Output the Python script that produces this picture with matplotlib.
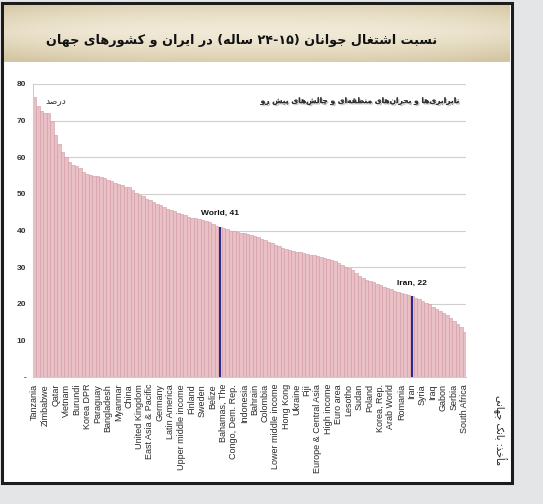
import re
import numpy as np
import matplotlib.pyplot as plt
from matplotlib.patches import Rectangle
import matplotlib.patheffects as pe

# youth employment ratio (%), sorted, one bar per country/region
values = [76.5, 74.0, 72.5, 72.2, 72.0, 70.0, 66.0, 63.5, 61.5, 60.0,
          58.8, 58.0, 57.5, 57.0, 56.0, 55.5, 55.2, 55.0, 54.8, 54.5,
          54.2, 53.8, 53.4, 53.0, 52.8, 52.3, 52.0, 51.8, 51.0, 50.2,
          49.8, 49.3, 48.7, 48.2, 47.8, 47.3, 46.9, 46.4, 46.0, 45.6,
          45.2, 44.8, 44.4, 44.1, 43.8, 43.5, 43.3, 43.1, 42.9, 42.6,
          42.2, 41.8, 41.3, 41.0, 40.6, 40.3, 40.0, 39.8, 39.6, 39.4,
          39.2, 39.0, 38.7, 38.4, 38.1, 37.7, 37.3, 36.9, 36.5, 36.1,
          35.7, 35.3, 35.0, 34.7, 34.5, 34.2, 34.0, 33.8, 33.6, 33.4,
          33.2, 33.0, 32.8, 32.6, 32.3, 32.0, 31.6, 31.1, 30.6, 30.1,
          29.7, 29.2, 28.4, 27.6, 27.0, 26.6, 26.2, 25.9, 25.5, 25.1,
          24.7, 24.3, 23.9, 23.5, 23.2, 22.9, 22.6, 22.3, 22.0, 21.6,
          21.2, 20.8, 20.3, 19.8, 19.2, 18.6, 18.0, 17.4, 16.8, 16.1,
          15.4, 14.6, 13.6, 12.3]

# only every third bar carries a label on the x axis
tick_names = ['Tanzania', 'Zimbabwe', 'Qatar', 'Vietnam', 'Burundi', 'Korea DPR',
              'Paraguay', 'Bangladesh', 'Myanmar', 'China', 'United Kingdom',
              'East Asia & Pacific', 'Germany', 'Latin America', 'Upper middle income',
              'Finland', 'Sweden', 'Belize', 'Bahamas, The', 'Congo, Dem. Rep.',
              'Indonesia', 'Bahrain', 'Colombia', 'Lower middle income', 'Hong Kong',
              'Ukraine', 'Fiji', 'Europe & Central Asia', 'High income', 'Euro area',
              'Lesotho', 'Sudan', 'Poland', 'Korea, Rep.', 'Arab World', 'Romania',
              'Iran', 'Syria', 'Iraq', 'Gabon', 'Serbia', 'South Africa']
label_step = 3

highlights = {'World': 53, 'Iran': 108}

title_fa = 'نسبت اشتغال جوانان (۱۵-۲۴ ساله) در ایران و کشورهای جهان'
unit_fa = 'درصد'
banner_fa = 'نابرابری‌ها و بحران‌های منطقه‌ای و چالش‌های پیش رو'
source_fa = 'مأخذ: بانک جهانی'

# --- minimal arabic/persian shaping (matplotlib has no complex text layout) ---
FORMS = {  # isolated, final, initial, medial
    'ا': (0xFE8D, 0xFE8E, None, None), 'آ': (0xFE81, 0xFE82, None, None),
    'أ': (0xFE83, 0xFE84, None, None), 'ب': (0xFE8F, 0xFE90, 0xFE91, 0xFE92),
    'پ': (0xFB56, 0xFB57, 0xFB58, 0xFB59), 'ت': (0xFE95, 0xFE96, 0xFE97, 0xFE98),
    'ث': (0xFE99, 0xFE9A, 0xFE9B, 0xFE9C), 'ج': (0xFE9D, 0xFE9E, 0xFE9F, 0xFEA0),
    'چ': (0xFB7A, 0xFB7B, 0xFB7C, 0xFB7D), 'ح': (0xFEA1, 0xFEA2, 0xFEA3, 0xFEA4),
    'خ': (0xFEA5, 0xFEA6, 0xFEA7, 0xFEA8), 'د': (0xFEA9, 0xFEAA, None, None),
    'ذ': (0xFEAB, 0xFEAC, None, None), 'ر': (0xFEAD, 0xFEAE, None, None),
    'ز': (0xFEAF, 0xFEB0, None, None), 'ژ': (0xFB8A, 0xFB8B, None, None),
    'س': (0xFEB1, 0xFEB2, 0xFEB3, 0xFEB4), 'ش': (0xFEB5, 0xFEB6, 0xFEB7, 0xFEB8),
    'ص': (0xFEB9, 0xFEBA, 0xFEBB, 0xFEBC), 'ض': (0xFEBD, 0xFEBE, 0xFEBF, 0xFEC0),
    'ط': (0xFEC1, 0xFEC2, 0xFEC3, 0xFEC4), 'ظ': (0xFEC5, 0xFEC6, 0xFEC7, 0xFEC8),
    'ع': (0xFEC9, 0xFECA, 0xFECB, 0xFECC), 'غ': (0xFECD, 0xFECE, 0xFECF, 0xFED0),
    'ف': (0xFED1, 0xFED2, 0xFED3, 0xFED4), 'ق': (0xFED5, 0xFED6, 0xFED7, 0xFED8),
    'ک': (0xFB8E, 0xFB8F, 0xFB90, 0xFB91), 'گ': (0xFB92, 0xFB93, 0xFB94, 0xFB95),
    'ل': (0xFEDD, 0xFEDE, 0xFEDF, 0xFEE0), 'م': (0xFEE1, 0xFEE2, 0xFEE3, 0xFEE4),
    'ن': (0xFEE5, 0xFEE6, 0xFEE7, 0xFEE8), 'و': (0xFEED, 0xFEEE, None, None),
    'ه': (0xFEE9, 0xFEEA, 0xFEEB, 0xFEEC), 'ی': (0xFBFC, 0xFBFD, 0xFBFE, 0xFBFF),
}


def shape(text):
    out = []
    for i, c in enumerate(text):
        if c not in FORMS:
            out.append(c)
            continue
        prev = text[i - 1] if i > 0 else ''
        nxt = text[i + 1] if i + 1 < len(text) else ''
        f = FORMS[c]
        jp = prev in FORMS and FORMS[prev][2] is not None
        jn = nxt in FORMS and f[2] is not None
        if jp and jn:
            g = f[3]
        elif jp:
            g = f[1]
        elif jn:
            g = f[2]
        else:
            g = f[0]
        out.append(chr(g))
    return ''.join(out)


def fa(text):
    s = shape(text).replace('\u200c', '')[::-1]
    s = s.translate(str.maketrans('()', ')('))
    return re.sub(r'[0-9\u06F0-\u06F9]+', lambda m: m.group(0)[::-1], s)


N = len(values)
pink = '#e8c0c5'
navy = '#2a2a8e'

fig = plt.figure(figsize=(5.43, 5.04), dpi=100, facecolor='#e4e5e7')

# white card with dark frame
fig.patches.append(Rectangle((2 / 543, 21 / 504), 510 / 543, 480 / 504,
                             transform=fig.transFigure, facecolor='white',
                             edgecolor='#1c1c1c', lw=2.2, zorder=-5))

# beige header band
hax = fig.add_axes([4 / 543, 442 / 504, 506 / 543, 57 / 504])
yy = np.linspace(0, 1, 60)[:, None]
xx = np.linspace(-1, 1, 300)[None, :]
light = np.array([246, 240, 224]) / 255
dark = np.array([212, 198, 163]) / 255
w = np.clip(0.15 + 0.8 * np.abs(yy - 0.45) ** 1.5 * 2 + 0.3 * np.abs(xx) ** 3, 0, 1)
img = light[None, None, :] * (1 - w[..., None]) + dark[None, None, :] * w[..., None]
hax.imshow(img, aspect='auto', extent=[0, 1, 0, 1])
hax.set_xlim(0, 1)
hax.set_ylim(0, 1)
hax.axis('off')
hax.text(0.47, 0.38, fa(title_fa), ha='center', va='center', fontsize=9.2,
         fontweight='bold', family='DejaVu Sans', color='#111111')

# main chart
ax = fig.add_axes([33 / 543, 127 / 504, 433 / 543, 293 / 504])
x = np.arange(N)
ax.bar(x, values, width=1.0, color=pink, edgecolor='#d49ea7', linewidth=0.45, zorder=2)
for idx in highlights.values():
    ax.bar(idx, values[idx], width=0.75, color=navy, linewidth=0, zorder=3)

ax.set_xlim(-0.5, N - 0.5)
ax.set_ylim(0, 80)
ax.set_yticks(range(0, 81, 10))
ax.set_yticklabels(['-'] + [str(v) for v in range(10, 81, 10)],
                   fontsize=6, fontweight='bold', family='Liberation Sans', color='#333333')
ax.set_xticks(x[::label_step])
ax.set_xticklabels(tick_names, rotation=90, fontsize=6.5, family='Liberation Sans',
                   color='#2a2a2a')
ax.tick_params(length=0, pad=5)
ax.grid(axis='y', color='#cfcfcf', linewidth=0.8, zorder=0)
for side in ['top', 'right']:
    ax.spines[side].set_visible(False)
for side in ['left', 'bottom']:
    ax.spines[side].set_color('#cccccc')
    ax.spines[side].set_linewidth(0.8)
ax.set_facecolor('none')

for name, idx in highlights.items():
    ax.text(idx, values[idx] + 3.6, f'{name}, {values[idx]:g}', ha='center', va='center',
            fontsize=6, fontweight='bold', family='Liberation Sans', color='#111111')

ax.text(6, 75.5, fa(unit_fa), ha='center', va='center', fontsize=6.5,
        family='DejaVu Sans', color='#333333')
ax.text(0.755, 0.94, fa(banner_fa), transform=ax.transAxes, ha='center', va='center',
        fontsize=5.4, fontweight='bold', family='DejaVu Sans', color='#333333',
        path_effects=[pe.withSimplePatchShadow(offset=(1, -1), shadow_rgbFace='#999999', alpha=0.6),
                      pe.Normal()])

fig.text(500 / 543, 74 / 504, fa(source_fa), rotation=270, ha='center', va='center',
         fontsize=7, family='DejaVu Sans', color='#222222')

fig.savefig('out.png', dpi=100, facecolor=fig.get_facecolor())
